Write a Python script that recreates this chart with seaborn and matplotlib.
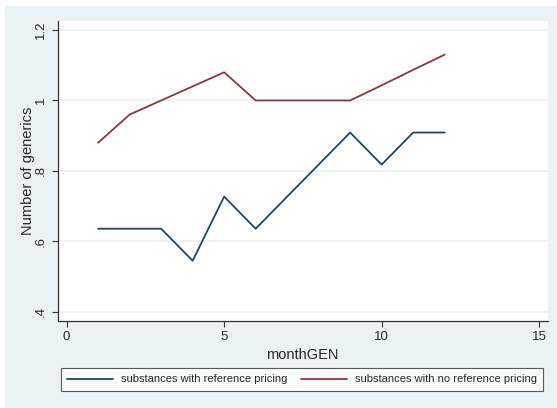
import pandas as pd
import seaborn as sns
import matplotlib.pyplot as plt
from matplotlib.patches import Rectangle

months = [1, 2, 3, 4, 5, 6, 7, 8, 9, 10, 11, 12]
ref_pricing = [0.636, 0.636, 0.636, 0.545, 0.727, 0.636, 0.727, 0.818, 0.909, 0.818, 0.909, 0.909]
no_ref_pricing = [0.88, 0.96, 1.00, 1.04, 1.08, 1.00, 1.00, 1.00, 1.00, 1.043, 1.087, 1.13]
series_names = ["substances with reference pricing", "substances with no reference pricing"]
x_ticks = [0, 5, 10, 15]
y_ticks = [0.4, 0.6, 0.8, 1.0, 1.2]
y_tick_labels = [".4", ".6", ".8", "1", "1.2"]

df = pd.DataFrame({
    "monthGEN": months * 2,
    "generics": ref_pricing + no_ref_pricing,
    "group": [series_names[0]] * len(months) + [series_names[1]] * len(months),
})

sns.set_style("white")
plt.rcParams["font.family"] = ["Liberation Sans", "DejaVu Sans"]

bg = "#eaf2f3"
fig = plt.figure(figsize=(5.57, 4.08), dpi=100, facecolor="white")
fig.patches.append(Rectangle((5 / 557, 0), 1, 1 - 6 / 408, transform=fig.transFigure,
                             facecolor=bg, edgecolor="none", zorder=-10))

ax = fig.add_axes([57.5 / 557, 1 - 321 / 408, (548 - 57.5) / 557, (321 - 21) / 408])
ax.set_facecolor("white")

sns.lineplot(
    data=df,
    x="monthGEN",
    y="generics",
    hue="group",
    palette=["#1a476f", "#90353b"],
    linewidth=1.3,
    ax=ax,
    legend=False,
)

ax.set_xlim(-0.29, 15.28)
ax.set_ylim(0.374, 1.2256)
ax.set_xticks(x_ticks)
ax.set_yticks(y_ticks)
ax.set_yticklabels(y_tick_labels, rotation=90, va="center")
ax.grid(axis="y", color=bg, linewidth=1.2)
ax.set_axisbelow(True)

for side in ["top", "right"]:
    ax.spines[side].set_visible(False)
for side in ["left", "bottom"]:
    ax.spines[side].set_color("#333333")
    ax.spines[side].set_linewidth(0.9)

ax.tick_params(axis="both", which="major", direction="out", length=4, width=0.8,
               color="#333333", labelsize=9.5, left=True, bottom=True)
ax.set_xlabel("monthGEN", fontsize=10.5, labelpad=3)
ax.set_ylabel("Number of generics", fontsize=10.5)
ax.yaxis.set_label_coords(-0.046, 0.5)

handles = ax.get_lines()[:2]
leg = fig.legend(
    handles,
    series_names,
    loc="center",
    bbox_to_anchor=(302 / 557, 1 - 379.5 / 408),
    ncol=2,
    fontsize=8.0,
    frameon=True,
    fancybox=False,
    edgecolor="#333333",
    handlelength=4.1,
    handletextpad=0.7,
    columnspacing=1.3,
    borderpad=0.6,
)
leg.get_frame().set_linewidth(0.8)

fig.savefig("out.png", dpi=100, facecolor=fig.get_facecolor())
